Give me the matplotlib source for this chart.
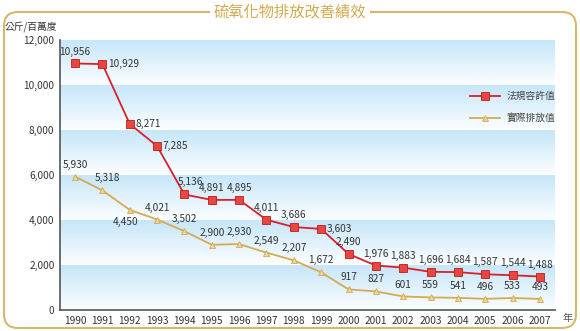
import numpy as np
import matplotlib
matplotlib.use("Agg")
import matplotlib.pyplot as plt
from matplotlib.patches import FancyBboxPatch
from matplotlib.lines import Line2D

plt.rcParams['font.family'] = ['Noto Sans CJK TC', 'DejaVu Sans']

years = list(range(1990, 2008))
legal = [10956, 10929, 8271, 7285, 5136, 4891, 4895, 4011, 3686, 3603,
         2490, 1976, 1883, 1696, 1684, 1587, 1544, 1488]
actual = [5930, 5318, 4450, 4021, 3502, 2900, 2930, 2549, 2207, 1672,
          917, 827, 601, 559, 541, 496, 533, 493]
yticks = [0, 2000, 4000, 6000, 8000, 10000, 12000]
title = "硫氧化物排放改善績效"
ylabel = "公斤/百萬度"
xlabel = "年"
legend_labels = ["法規容許值", "實際排放值"]

# label placement: 'a' above, 'r' right, 'b' below
legal_pos = ['a', 'r', 'r', 'r', 'ar', 'a', 'a', 'a', 'a', 'r',
             'a', 'a', 'a', 'a', 'a', 'a', 'a', 'a']
actual_pos = ['a', 'ar', 'b', 'a', 'a', 'a', 'a', 'a', 'a', 'a',
              'a', 'a', 'a', 'a', 'a', 'a', 'a', 'a']

W, H = 580, 331
fig = plt.figure(figsize=(W / 100, H / 100), dpi=100)
ax = fig.add_axes([60 / W, (H - 310) / H, (555 - 60) / W, (310 - 40) / H])

x0, x1 = 1989.45, 2007.55
ax.set_xlim(x0, x1)
ax.set_ylim(0, 12000)

# gradient bands
top_c = np.array([198, 230, 249]) / 255
bot_c = np.array([252, 254, 255]) / 255
grad = np.linspace(0, 1, 64)[:, None]
img = top_c[None, None, :] * (1 - grad[..., None]) + bot_c[None, None, :] * grad[..., None]
img = np.repeat(img, 2, axis=1)
for lo in range(0, 12000, 2000):
    ax.imshow(img, extent=(x0, x1, lo, lo + 2000), origin='upper',
              aspect='auto', zorder=0, interpolation='bilinear')
ax.set_xlim(x0, x1)
ax.set_ylim(0, 12000)

red = '#d9202a'
gold = '#d4aa55'
ax.plot(years, legal, color=red, lw=1.3, marker='s', markersize=5.5,
        markerfacecolor='#e8473f', markeredgecolor='#c01a1a', markeredgewidth=0.6, zorder=3)
ax.plot(years, actual, color=gold, lw=1.3, marker='^', markersize=5,
        markerfacecolor='#ecd59a', markeredgecolor='#d4aa55', markeredgewidth=0.6, zorder=3)

def annotate(xs, ys, pos):
    for x, y, p in zip(xs, ys, pos):
        s = f"{y:,}"
        if p == 'a':
            off, ha, va = (0, 5), 'center', 'bottom'
        elif p == 'ar':
            off, ha, va = (4, 5), 'center', 'bottom'
        elif p == 'r':
            off, ha, va = (4, 0), 'left', 'center'
        else:
            off, ha, va = (-3, -5), 'center', 'top'
        ax.annotate(s, (x, y), xytext=off, textcoords='offset points',
                    ha=ha, va=va, fontsize=7.3, color='#333333', zorder=4)

annotate(years, legal, legal_pos)
annotate(years, actual, actual_pos)

ax.set_xticks(years)
ax.set_xticklabels([str(y) for y in years], fontsize=7.3, color='#333333')
ax.set_yticks(yticks)
ax.set_yticklabels([f"{v:,}" for v in yticks], fontsize=7.3, color='#333333')
ax.tick_params(length=0, pad=4)
for s in ['top', 'right']:
    ax.spines[s].set_visible(False)
ax.spines['left'].set_color('#555555')
ax.spines['bottom'].set_color('#555555')
ax.spines['left'].set_linewidth(1.2)
ax.spines['bottom'].set_linewidth(1.2)

# legend (manual)
lx0, lx1 = 470, 500
for i, (c, m, mfc, mec, lab) in enumerate([
        (red, 's', '#e8473f', '#c01a1a', legend_labels[0]),
        (gold, '^', '#ecd59a', '#d4aa55', legend_labels[1])]):
    yy = (H - (96 + 22 * i)) / H
    fig.add_artist(Line2D([lx0 / W, lx1 / W], [yy, yy], color=c, lw=1.3,
                          transform=fig.transFigure))
    fig.add_artist(Line2D([485 / W], [yy], marker=m, markersize=5.5 if m == 's' else 5,
                          markerfacecolor=mfc, markeredgecolor=mec, markeredgewidth=0.6,
                          transform=fig.transFigure))
    fig.text(507 / W, yy, lab, fontsize=7, color='#444444', va='center', ha='left')

# frame (in inches so corners are round)
frame = FancyBboxPatch((0.04, 0.03), 5.72, 3.16,
                       boxstyle="round,pad=0,rounding_size=0.14",
                       transform=fig.dpi_scale_trans, fill=False,
                       edgecolor='#d9b76a', lw=1.5, zorder=0)
fig.add_artist(frame)
fig.text(290 / W, (H - 12) / H, title, fontsize=11, color='#d4a94f',
         ha='center', va='center',
         bbox=dict(facecolor='white', edgecolor='none', pad=3), zorder=5)

fig.text(5 / W, (H - 27) / H, ylabel, fontsize=7, color='#333333', ha='left', va='center')
fig.text(568 / W, (H - 318) / H, xlabel, fontsize=7.3, color='#555555', ha='center', va='center')

fig.savefig('out.png', dpi=100)
